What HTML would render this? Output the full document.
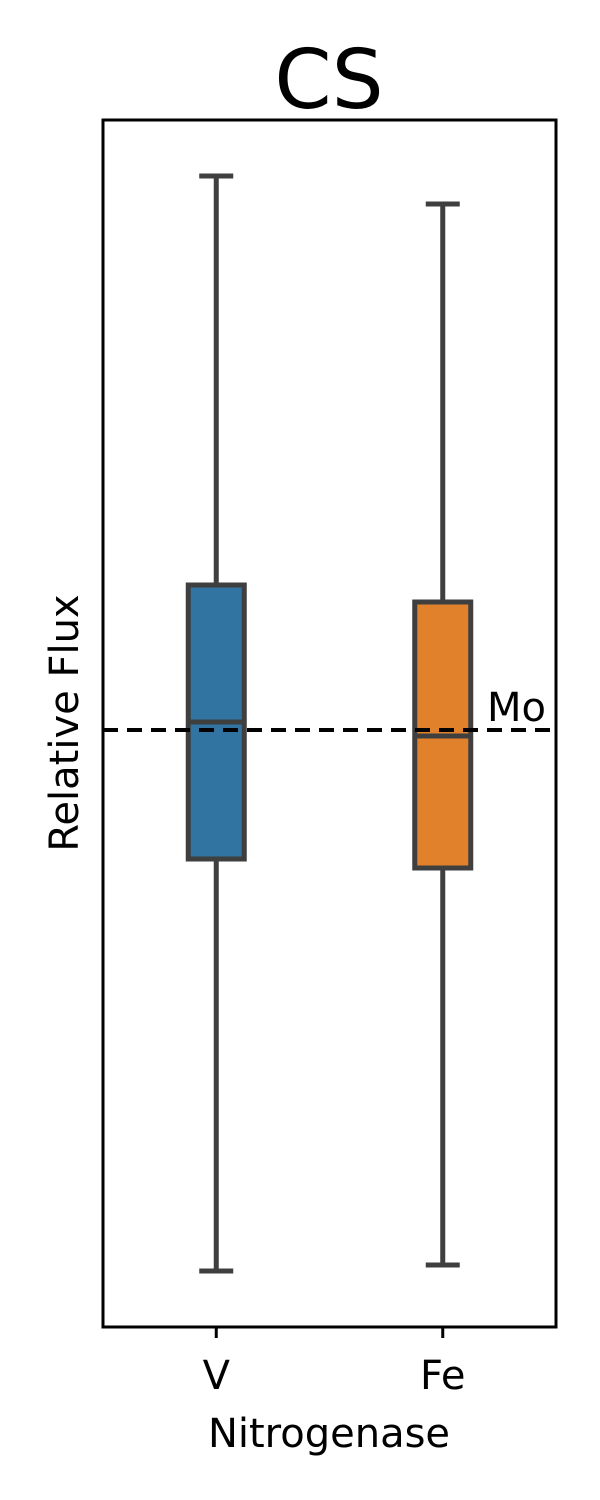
<!DOCTYPE html>
<html><head><meta charset="utf-8"><style>
html,body{margin:0;padding:0;background:#fff;}
svg{display:block;font-family:"DejaVu Sans","Liberation Sans",sans-serif;}
</style></head><body>
<svg id="chart" width="600" height="1500" viewBox="0 0 600 1500"></svg>
<script>
const categories = ["V", "Fe"];
const whiskerHigh = [2.108, 2.052];
const q3Values = [1.290, 1.256];
const medians = [1.016, 0.988];
const q1Values = [0.742, 0.724];
const whiskerLow = [-0.082, -0.070];
const colors = ["#3274a1", "#e1812c"];
const moReference = 1.0;
const yDomain = [-0.194, 2.22];

const svg = document.getElementById('chart');
const NS = 'http://www.w3.org/2000/svg';
const plot = {left:103, right:556, top:120, bottom:1327};
function y(v){ return plot.bottom - (v - yDomain[0]) / (yDomain[1]-yDomain[0]) * (plot.bottom - plot.top); }
function x(i){ const step=(plot.right-plot.left)/categories.length; return plot.left + step*(i+0.5); }
function mk(tag, attrs){ const e=document.createElementNS(NS, tag); for(const k in attrs) e.setAttribute(k, attrs[k]); svg.appendChild(e); return e; }

const title = mk('text',{x:329,y:108,'text-anchor':'middle','font-size':82,fill:'#000'});
title.textContent='CS';



const boxW = 56, capW = 34;
categories.forEach((c,i)=>{
  const cx = x(i);
  const g = document.createElementNS(NS,'g'); svg.appendChild(g);
  
  
  const add=(tag,a)=>{const e=document.createElementNS(NS,tag);for(const k in a)e.setAttribute(k,a[k]);g.appendChild(e);return e;};
  const st={stroke:'#3f3f3f','stroke-width':5};
  add('line',Object.assign({x1:cx,x2:cx,y1:y(whiskerHigh[i]),y2:y(q3Values[i])},st));
  add('line',Object.assign({x1:cx,x2:cx,y1:y(q1Values[i]),y2:y(whiskerLow[i])},st));
  add('line',Object.assign({x1:cx-capW/2,x2:cx+capW/2,y1:y(whiskerHigh[i]),y2:y(whiskerHigh[i])},st));
  add('line',Object.assign({x1:cx-capW/2,x2:cx+capW/2,y1:y(whiskerLow[i]),y2:y(whiskerLow[i])},st));
  add('rect',Object.assign({x:cx-boxW/2,y:y(q3Values[i]),width:boxW,height:y(q1Values[i])-y(q3Values[i]),fill:colors[i]},st));
  add('line',Object.assign({x1:cx-boxW/2,x2:cx+boxW/2,y1:y(medians[i]),y2:y(medians[i])},st));
  const t = mk('line',{x1:cx,x2:cx,y1:plot.bottom,y2:plot.bottom+11,stroke:'#000','stroke-width':3});
  
  
  const lbl = mk('text',{x:cx,y:1389,'text-anchor':'middle','font-size':40,fill:'#000'});
  lbl.textContent=c;
  
  
});

const ref = mk('line',{x1:plot.left,x2:plot.right,y1:y(moReference),y2:y(moReference),stroke:'#000','stroke-width':4,'stroke-dasharray':'15,9'});


const mo = mk('text',{x:546,y:y(moReference)-9,'text-anchor':'end','font-size':40,fill:'#000'});
mo.textContent='Mo';



const frame = mk('rect',{x:plot.left,y:plot.top,width:plot.right-plot.left,height:plot.bottom-plot.top,fill:'none',stroke:'#000','stroke-width':3});



const xt = mk('text',{x:329,y:1447,'text-anchor':'middle','font-size':40,fill:'#000'});
xt.textContent='Nitrogenase';


const yt = mk('text',{x:0,y:0,'text-anchor':'middle','font-size':40,fill:'#000',transform:'translate(78,723) rotate(-90)'});
yt.textContent='Relative Flux';


</script>
</body></html>
